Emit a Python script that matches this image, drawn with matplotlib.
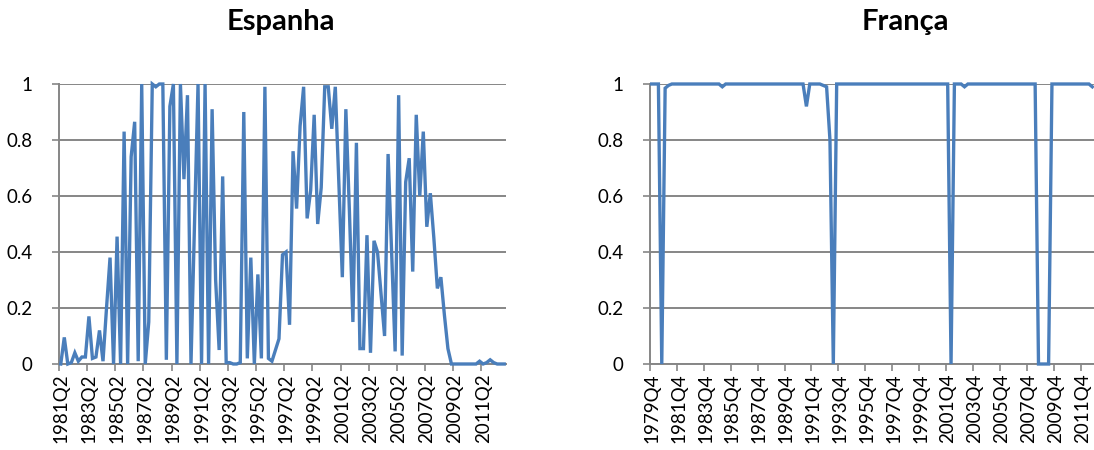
import numpy as np
import matplotlib
matplotlib.use("Agg")
import matplotlib.pyplot as plt

# quarterly series
espanha_start = (1981, 2)
espanha = [
    0.0, 0.095, 0.0, 0.005, 0.04, 0.01, 0.025, 0.025, 0.17, 0.02,
    0.025, 0.12, 0.01, 0.2, 0.38, 0.0, 0.455, 0.0, 0.83, 0.0,
    0.74, 0.865, 0.01, 1.0, 0.0, 0.15, 1.0, 0.99, 1.0, 1.0,
    0.015, 0.92, 1.0, 0.0, 1.0, 0.66, 0.96, 0.0, 0.5, 1.0,
    0.0, 1.0, 0.0, 0.91, 0.3, 0.05, 0.67, 0.005, 0.005, 0.0,
    0.0, 0.005, 0.9, 0.02, 0.38, 0.0, 0.32, 0.02, 0.99, 0.02,
    0.01, 0.05, 0.09, 0.39, 0.40, 0.14, 0.76, 0.555, 0.85, 0.99,
    0.52, 0.62, 0.89, 0.50, 0.63, 0.99, 0.99, 0.84, 0.99, 0.65,
    0.31, 0.91, 0.55, 0.15, 0.79, 0.055, 0.055, 0.46, 0.04, 0.44,
    0.40, 0.25, 0.10, 0.75, 0.4, 0.045, 0.96, 0.03, 0.65, 0.735,
    0.33, 0.89, 0.60, 0.83, 0.49, 0.61, 0.45, 0.27, 0.31, 0.175,
    0.055, 0.0, 0.0, 0.0, 0.0, 0.0, 0.0, 0.0, 0.0, 0.01,
    0.0, 0.005, 0.015, 0.005, 0.0, 0.0, 0.0,
]

franca_start = (1979, 4)
franca = [
    1.0, 1.0, 1.0, 0.0, 0.985, 0.995, 1.0, 1.0, 1.0, 1.0,
    1.0, 1.0, 1.0, 1.0, 1.0, 1.0, 1.0, 1.0, 1.0, 1.0,
    1.0, 0.99, 1.0, 1.0, 1.0, 1.0, 1.0, 1.0, 1.0, 1.0,
    1.0, 1.0, 1.0, 1.0, 1.0, 1.0, 1.0, 1.0, 1.0, 1.0,
    1.0, 1.0, 1.0, 1.0, 1.0, 1.0, 0.92, 1.0, 1.0, 1.0,
    1.0, 0.995, 0.99, 0.8, 0.0, 1.0, 1.0, 1.0, 1.0, 1.0,
    1.0, 1.0, 1.0, 1.0, 1.0, 1.0, 1.0, 1.0, 1.0, 1.0,
    1.0, 1.0, 1.0, 1.0, 1.0, 1.0, 1.0, 1.0, 1.0, 1.0,
    1.0, 1.0, 1.0, 1.0, 1.0, 1.0, 1.0, 1.0, 1.0, 0.0,
    1.0, 1.0, 1.0, 0.99, 1.0, 1.0, 1.0, 1.0, 1.0, 1.0,
    1.0, 1.0, 1.0, 1.0, 1.0, 1.0, 1.0, 1.0, 1.0, 1.0,
    1.0, 1.0, 1.0, 1.0, 1.0, 0.0, 0.0, 0.0, 0.0, 1.0,
    1.0, 1.0, 1.0, 1.0, 1.0, 1.0, 1.0, 1.0, 1.0, 1.0,
    1.0, 0.99,
]

y_ticks = [0, 0.2, 0.4, 0.6, 0.8, 1]
y_labels = ["0", "0.2", "0.4", "0.6", "0.8", "1"]

LINE = "#4a7ebb"
GRID = "#868686"
FONT = "Lato"


def quarter_labels(start, n):
    year, q = start
    out = []
    for _ in range(n):
        out.append(f"{year}Q{q}")
        q += 1
        if q > 4:
            q = 1
            year += 1
    return out


def draw_panel(ax, values, start, title, title_x):
    n = len(values)
    x = np.arange(n) + 0.5  # points sit in the middle of each category
    ax.plot(x, values, color=LINE, lw=2.4, solid_joinstyle="miter", clip_on=False, zorder=3)

    ax.set_xlim(0, n)
    ax.set_ylim(0, 1)

    # ticks between categories, one label every 8 quarters
    labels = quarter_labels(start, n)
    ax.set_xticks(np.arange(0, n, 8))
    ax.set_xticklabels([])
    ax.set_xticks(np.arange(0, n, 8) + 0.5, minor=True)
    ax.set_xticklabels(labels[::8], minor=True, rotation=90, fontsize=13.5, family=FONT)
    ax.tick_params(axis="x", which="major", length=5, width=1.2, color=GRID, direction="out")
    ax.tick_params(axis="x", which="minor", length=0, pad=7)

    ax.set_yticks(y_ticks)
    ax.set_yticklabels(y_labels, fontsize=13.5, family=FONT)
    ax.tick_params(axis="y", length=5, width=1.2, color=GRID, pad=14)
    ax.grid(axis="y", color=GRID, lw=1.4)
    ax.set_axisbelow(True)

    for side in ["top", "right"]:
        ax.spines[side].set_visible(False)
    for side in ["left", "bottom"]:
        ax.spines[side].set_color(GRID)
        ax.spines[side].set_linewidth(1.4)

    ax.figure.text(title_x, 1 - 22 / 450, title, ha="center", va="center",
                   fontsize=21, fontweight="bold", family=FONT)


fig = plt.figure(figsize=(10.94, 4.5), dpi=100)
ax1 = fig.add_axes([59 / 1094, 86 / 450, 447 / 1094, 280 / 450])
ax2 = fig.add_axes([650 / 1094, 86 / 450, 444 / 1094, 280 / 450])

draw_panel(ax1, espanha, espanha_start, "Espanha", 281 / 1094)
draw_panel(ax2, franca, franca_start, "França", 905 / 1094)

fig.savefig("out.png", dpi=100)
